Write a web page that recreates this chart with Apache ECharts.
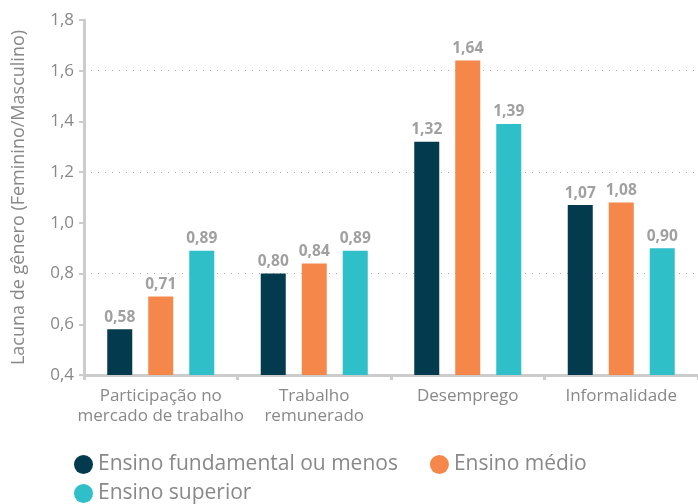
<!DOCTYPE html>
<html>
<head>
<meta charset="utf-8">
<script src="https://cdn.jsdelivr.net/npm/echarts@6/dist/echarts.min.js"></script>
<style>
  html, body { margin: 0; padding: 0; background: #fff; }
  #main { width: 698px; height: 504px; }
</style>
</head>
<body>
<div id="main"></div>
<script>
// categorias e valores (lacuna feminino/masculino)
var categorias = ['Participação no\nmercado de trabalho', 'Trabalho\nremunerado', 'Desemprego', 'Informalidade'];
var fundamental = [0.58, 0.80, 1.32, 1.07];
var medio = [0.71, 0.84, 1.64, 1.08];
var superior = [0.89, 0.89, 1.39, 0.90];
var nomesSeries = ['Ensino fundamental ou menos', 'Ensino médio', 'Ensino superior'];
var cores = ['#033a4d', '#f5874a', '#2fbfc8'];

var fonte = '"Open Sans", sans-serif';

function virgula(v, casas) {
    return v.toFixed(casas).replace('.', ',');
}

function serie(nome, dados, cor) {
    return {
        name: nome,
        type: 'bar',
        data: dados,
        barWidth: 25,
        barGap: '64%',
        itemStyle: {color: cor},
        label: {
            show: true,
            position: 'top',
            distance: 4,
            color: '#a0a0a0',
            fontWeight: 'bold',
            fontSize: 15.5,
            fontFamily: fonte,
            formatter: function (p) { return virgula(p.value, 2); }
        }
    };
}

var legendaTexto = {color: '#888', fontSize: 21, fontFamily: fonte};

var myChart = echarts.init(document.getElementById('main'));
var option = {
    animation: false,
    textStyle: {fontFamily: fonte},
    grid: {left: 84, right: 0, top: 20, bottom: 129},
    legend: [{
        data: [nomesSeries[0], nomesSeries[1]],
        left: 74,
        bottom: 29,
        padding: 0,
        icon: 'circle',
        itemWidth: 19,
        itemHeight: 19,
        itemGap: 32,
        textStyle: legendaTexto
    }, {
        data: [nomesSeries[2]],
        left: 74,
        bottom: 0,
        padding: 0,
        icon: 'circle',
        itemWidth: 19,
        itemHeight: 19,
        textStyle: legendaTexto
    }],
    xAxis: {
        type: 'category',
        data: categorias,
        axisLine: {lineStyle: {color: '#ccc', width: 3}},
        axisTick: {show: true, length: 5, lineStyle: {color: '#ccc', width: 3}},
        axisLabel: {color: '#888', fontSize: 17, lineHeight: 20, margin: 11, interval: 0, fontFamily: fonte}
    },
    yAxis: [{
        type: 'value',
        min: 0.4,
        max: 1.8,
        interval: 0.2,
        name: 'Lacuna de gênero (Feminino/Masculino)',
        nameLocation: 'middle',
        nameGap: 56,
        nameTextStyle: {color: '#888', fontSize: 18, fontFamily: fonte},
        axisLine: {show: true, lineStyle: {color: '#ccc', width: 3}},
        axisTick: {show: true, length: 5, lineStyle: {color: '#ccc', width: 2}},
        axisLabel: {color: '#888', fontSize: 17, margin: 10, fontFamily: fonte,
            formatter: function (v) { return virgula(v, 1); }},
        splitLine: {show: false}
    }, {
        // eixo auxiliar so para as linhas pontilhadas em 0,8 / 1,2 / 1,6
        type: 'value',
        min: 0.4,
        max: 1.8,
        interval: 0.4,
        position: 'left',
        axisLine: {show: false},
        axisTick: {show: false},
        axisLabel: {show: false},
        splitLine: {
            show: true,
            showMinLine: false,
            showMaxLine: false,
            lineStyle: {color: '#aaa', type: [1, 6], width: 1}
        }
    }],
    series: [
        serie(nomesSeries[0], fundamental, cores[0]),
        serie(nomesSeries[1], medio, cores[1]),
        serie(nomesSeries[2], superior, cores[2])
    ]
};
myChart.setOption(option);
</script>
</body>
</html>
